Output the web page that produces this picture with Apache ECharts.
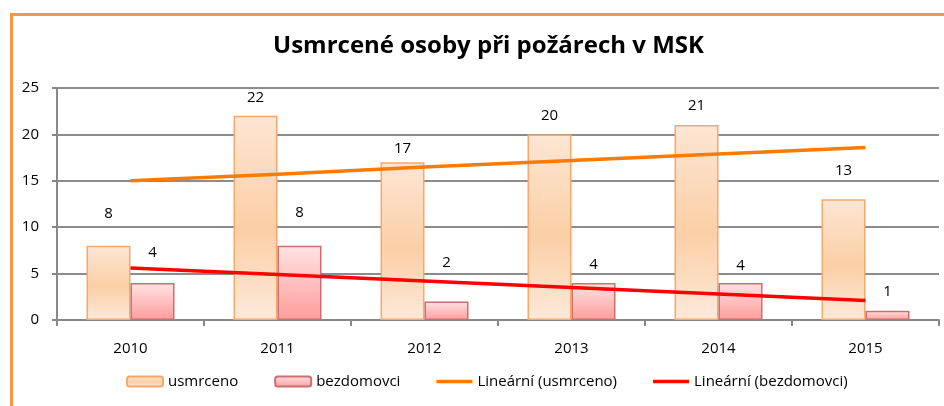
<!DOCTYPE html>
<html lang="cs">
<head>
    <meta charset="UTF-8">
    <title>Usmrcené osoby při požárech v MSK</title>
    <script src="https://cdn.jsdelivr.net/npm/echarts@6/dist/echarts.min.js"></script>
    <style>
        html, body { margin: 0; padding: 0; background: #fff; }
        #frame { position: absolute; left: 10px; top: 13px; width: 960px; height: 420px;
                 border-left: 3px solid #F79646; border-top: 3px solid #F79646; }
        #chart { position: absolute; left: 0; top: 0; width: 944px; height: 406px; }
    </style>
</head>
<body>
<div id="frame"></div>
<div id="chart"></div>
<script>
    // data
    var years = ['2010', '2011', '2012', '2013', '2014', '2015'];
    var usmrceno = [8, 22, 17, 20, 21, 13];
    var bezdomovci = [4, 8, 2, 4, 4, 1];
    // trend lines
    var trendUsmrceno = [15.0, 15.7, 16.5, 17.2, 17.9, 18.6];
    var trendBezdomovci = [5.6, 4.9, 4.2, 3.5, 2.8, 2.1];
    var yTicks = [0, 5, 10, 15, 20, 25];

    // label distance above each bar (Excel labels were dragged by hand)
    var distU = [25, 11, 6, 11, 12, 21];
    var distB = [23, 26, 31, 11, 10, 11];

    var txt = { fontFamily: 'Open Sans', fontSize: 15, color: '#000' };
    var lineIcon = 'path://M0,0 L40,0 L40,4 L0,4 Z';

    function withLabels(values, dist) {
        return values.map(function (v, i) {
            return { value: v, label: { distance: dist[i] } };
        });
    }

    var chart = echarts.init(document.getElementById('chart'));
    chart.setOption({
        animation: false,
        title: {
            text: 'Usmrcené osoby při požárech v MSK',
            left: 268,
            top: 29,
            textStyle: { fontFamily: 'Open Sans', fontSize: 24, fontWeight: 'bold', color: '#000' }
        },
        grid: { left: 57, right: 5, top: 88, bottom: 86 },
        legend: {
            bottom: 12,
            left: 121,
            itemWidth: 36,
            itemHeight: 10,
            itemGap: 36,
            textStyle: { fontFamily: 'Open Sans', fontSize: 15, color: '#000' },
            data: [
                { name: 'usmrceno' },
                { name: 'bezdomovci' },
                { name: 'Lineární (usmrceno)', icon: lineIcon },
                { name: 'Lineární (bezdomovci)', icon: lineIcon }
            ]
        },
        xAxis: {
            type: 'category',
            data: years,
            axisLine: { lineStyle: { color: '#888', width: 2 } },
            axisTick: { show: true, length: 6, lineStyle: { color: '#888', width: 2 } },
            axisLabel: Object.assign({ margin: 21 }, txt)
        },
        yAxis: {
            type: 'value',
            min: yTicks[0],
            max: yTicks[yTicks.length - 1],
            interval: 5,
            axisLine: { show: true, lineStyle: { color: '#888', width: 2 } },
            axisTick: { show: true, length: 5, lineStyle: { color: '#888', width: 2 } },
            splitLine: { lineStyle: { color: '#8c8c8c', width: 2 } },
            axisLabel: Object.assign({ margin: 18 }, txt)
        },
        series: [
            {
                name: 'usmrceno',
                type: 'bar',
                barWidth: 44,
                barGap: '0%',
                itemStyle: {
                    borderColor: '#F9A86A',
                    borderWidth: 1.5,
                    color: new echarts.graphic.LinearGradient(0, 0, 0, 1, [
                        { offset: 0, color: '#FDE6D4' },
                        { offset: 0.55, color: '#FBCFA6' },
                        { offset: 1, color: '#FDE9DA' }
                    ])
                },
                label: Object.assign({ show: true, position: 'top' }, txt),
                data: withLabels(usmrceno, distU)
            },
            {
                name: 'bezdomovci',
                type: 'bar',
                barWidth: 44,
                itemStyle: {
                    borderColor: '#C9716E',
                    borderWidth: 1.5,
                    color: new echarts.graphic.LinearGradient(0, 0, 0, 1, [
                        { offset: 0, color: '#FFE3E3' },
                        { offset: 1, color: '#FF9C9C' }
                    ])
                },
                label: Object.assign({ show: true, position: 'top' }, txt),
                data: withLabels(bezdomovci, distB)
            },
            {
                name: 'Lineární (usmrceno)',
                type: 'line',
                symbol: 'none',
                z: 5,
                lineStyle: { color: '#FF7A00', width: 3.5 },
                itemStyle: { color: '#FF7A00' },
                data: trendUsmrceno
            },
            {
                name: 'Lineární (bezdomovci)',
                type: 'line',
                symbol: 'none',
                z: 5,
                lineStyle: { color: '#FF0000', width: 3.5 },
                itemStyle: { color: '#FF0000' },
                data: trendBezdomovci
            }
        ]
    });
</script>
</body>
</html>
